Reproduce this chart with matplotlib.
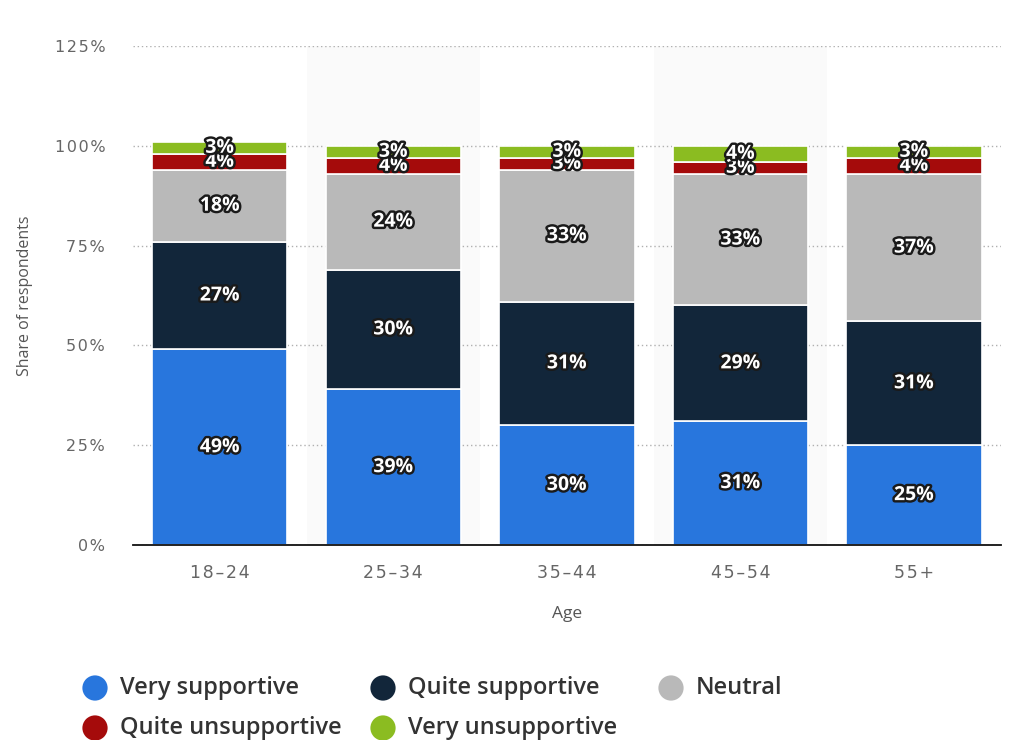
import numpy as np
import matplotlib.pyplot as plt
import matplotlib.patheffects as pe
from matplotlib.ticker import FuncFormatter

# share of respondents per age group, in percent
ages = ['18-24', '25-34', '35-44', '45-54', '55+']
very_supportive = [49, 39, 30, 31, 25]
quite_supportive = [27, 30, 31, 29, 31]
neutral = [18, 24, 33, 33, 37]
quite_unsupportive = [4, 4, 3, 3, 4]
very_unsupportive = [3, 3, 3, 4, 3]

series_names = ['Very supportive', 'Quite supportive', 'Neutral',
                'Quite unsupportive', 'Very unsupportive']
series = [very_supportive, quite_supportive, neutral,
          quite_unsupportive, very_unsupportive]
colors = ['#2876dd', '#12263a', '#b9b9b9', '#a50b0b', '#8bbc21']

plt.rcParams['font.family'] = ['Open Sans', 'DejaVu Sans']


def spaced(s):
    # widen tick text a little, like the site's axis font
    return '\u200a'.join(s)


fig = plt.figure(figsize=(10.09, 7.40), dpi=100)
ax = fig.add_axes([0.1318, 0.2635, 0.860, 0.6743])

x = np.arange(len(ages))

# alternating column shading
for i in x:
    if i % 2 == 1:
        ax.axvspan(i - 0.5, i + 0.5, color='#fafafa', zorder=0, lw=0)

bottom = np.zeros(len(ages))
outline = [pe.withStroke(linewidth=3.5, foreground='#1a1a1a')]
for name, vals, col in zip(series_names, series, colors):
    vals = np.array(vals, dtype=float)
    ax.bar(x, vals, 0.78, bottom=bottom, color=col, edgecolor='white',
           linewidth=1.2, zorder=3)
    for xi, b, v in zip(x, bottom, vals):
        ax.text(xi, b + v / 2, f'{int(v)}%', ha='center', va='center',
                color='white', fontsize=14, fontweight='bold',
                path_effects=outline, zorder=5)
    bottom += vals

ax.set_xlim(-0.5, 4.5)
ax.set_ylim(0, 125)
ax.set_yticks([0, 25, 50, 75, 100, 125])
ax.yaxis.set_major_formatter(FuncFormatter(lambda v, p: spaced(f'{int(v)}%')))
ax.grid(axis='y', linestyle=(0, (1, 2)), color='#b0b0b0', linewidth=1, zorder=1)
ax.set_axisbelow(True)

for s in ['top', 'right', 'left']:
    ax.spines[s].set_visible(False)
ax.spines['bottom'].set_color('#111111')
ax.spines['bottom'].set_linewidth(1.3)
ax.spines['bottom'].set_zorder(6)

ax.set_xticks(x)
ax.set_xticklabels([spaced(a.replace('-', '\u2013')) for a in ages])
ax.tick_params(axis='x', length=0, pad=14, labelcolor='#666666')
ax.tick_params(axis='y', length=0, pad=20, labelcolor='#666666')
for lab in ax.get_xticklabels():
    lab.set_family(['DejaVu Sans'])
    lab.set_fontsize(12.5)
for lab in ax.get_yticklabels():
    lab.set_family(['DejaVu Sans'])
    lab.set_fontsize(11.5)

ax.set_xlabel('Age', fontsize=12.5, color='#555555', labelpad=17)
ax.set_ylabel('Share of respondents', fontsize=11.5, color='#555555')
ax.yaxis.set_label_coords(-0.115, 0.5)

# legend drawn in pixel coordinates below the plot
leg = fig.add_axes([0, 0, 1, 1], zorder=-1)
leg.set_xlim(0, 1009)
leg.set_ylim(740, 0)
leg.axis('off')
for i, (name, col) in enumerate(zip(series_names, colors)):
    cx = 95 + (i % 3) * 288
    cy = 688 + (i // 3) * 40
    leg.scatter([cx], [cy], s=330, color=col, edgecolors='none')
    leg.text(cx + 25, cy, name, va='center', ha='left', fontsize=17,
             fontweight='semibold', color='#333333')

fig.savefig('out.png', dpi=100)
